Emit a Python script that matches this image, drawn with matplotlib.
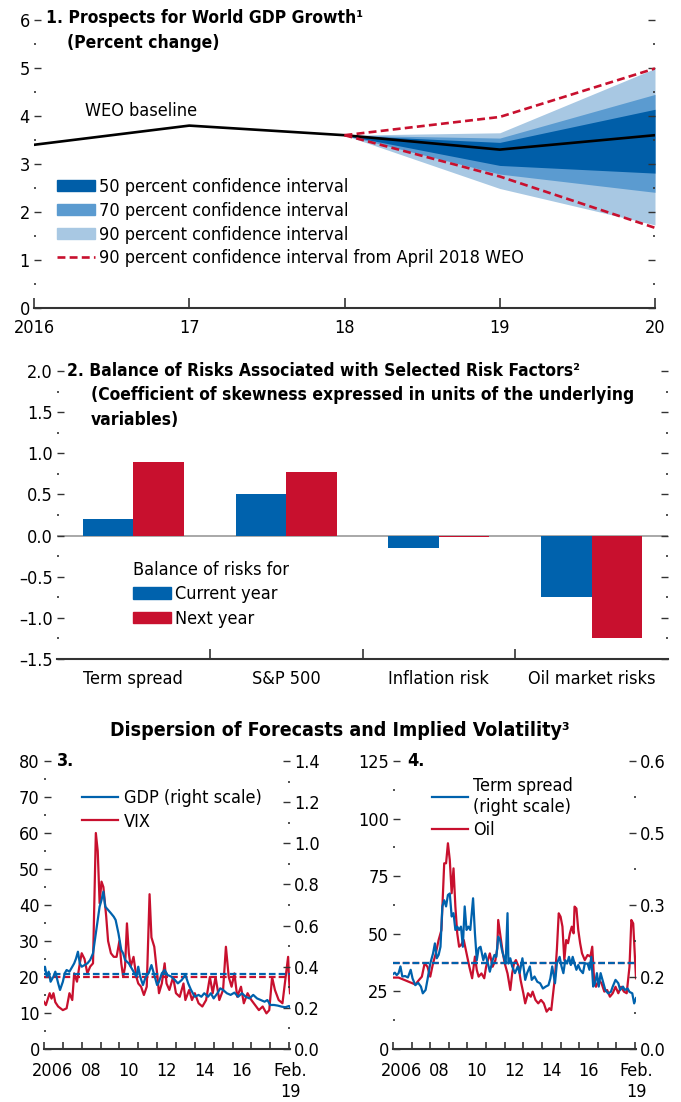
import matplotlib
matplotlib.use("Agg")
import matplotlib.pyplot as plt
from matplotlib import font_manager
from matplotlib.patches import Patch
from matplotlib.lines import Line2D
from matplotlib.ticker import MultipleLocator, FixedLocator

# narrow font if available, otherwise fall back
fonts = font_manager.fontManager.ttflist
names = {f.name for f in fonts}
if 'Liberation Sans Narrow' in names:
    plt.rcParams['font.family'] = ['Liberation Sans Narrow', 'DejaVu Sans']
    FS = 14
elif any(f.name == 'DejaVu Sans' and f.stretch == 'condensed' for f in fonts):
    plt.rcParams['font.family'] = ['DejaVu Sans']
    plt.rcParams['font.stretch'] = 'condensed'
    FS = 13
else:
    plt.rcParams['font.family'] = ['Liberation Sans', 'DejaVu Sans']
    FS = 13
TFS = FS - 0.5

# ---- panel 1: world GDP growth fan chart
years = [2016, 2017, 2018, 2019, 2020]
baseline = [3.4, 3.8, 3.6, 3.3, 3.6]
fan_years = [2018, 2019, 2020]
lo90 = [3.6, 2.49, 1.73]
hi90 = [3.6, 3.65, 4.99]
lo70 = [3.6, 2.79, 2.41]
hi70 = [3.6, 3.54, 4.45]
lo50 = [3.6, 2.97, 2.81]
hi50 = [3.6, 3.45, 4.14]
apr18_lo = [3.6, 2.74, 1.67]
apr18_hi = [3.6, 3.98, 4.99]

# ---- panel 2: balance of risks
factors = ['Term spread', 'S&P 500', 'Inflation risk', 'Oil market risks']
current_year = [0.20, 0.51, -0.15, -0.75]
next_year = [0.90, 0.77, -0.02, -1.24]

# ---- panel 3: GDP forecast dispersion and VIX
vix_t = [2006.0, 2006.1, 2006.3, 2006.4, 2006.5, 2006.6, 2006.75, 2007.0, 2007.2, 2007.35,
         2007.5, 2007.6, 2007.75, 2007.9, 2008.0, 2008.15, 2008.3, 2008.45, 2008.6, 2008.75,
         2008.85, 2008.95, 2009.05, 2009.15, 2009.3, 2009.4, 2009.55, 2009.7, 2009.85, 2010.0,
         2010.1, 2010.2, 2010.3, 2010.4, 2010.5, 2010.6, 2010.75, 2010.9, 2011.0, 2011.15,
         2011.3, 2011.45, 2011.6, 2011.7, 2011.85, 2012.0, 2012.1, 2012.25, 2012.4, 2012.5,
         2012.65, 2012.85, 2013.0, 2013.2, 2013.4, 2013.5, 2013.7, 2013.85, 2014.0, 2014.2,
         2014.4, 2014.6, 2014.8, 2014.95, 2015.1, 2015.3, 2015.5, 2015.65, 2015.8, 2015.95,
         2016.1, 2016.25, 2016.45, 2016.6, 2016.8, 2017.0, 2017.2, 2017.4, 2017.6, 2017.8,
         2017.95, 2018.1, 2018.25, 2018.45, 2018.65, 2018.8, 2018.95, 2019.0, 2019.05]
vix = [13.1, 12.2, 15.5, 14.0, 15.5, 13.0, 11.8, 10.8, 11.3, 15.5,
       13.6, 21.0, 18.7, 23.8, 26.6, 25.0, 21.0, 22.9, 23.8, 60.0,
       55.0, 40.5, 46.5, 45.0, 36.8, 30.0, 26.6, 25.6, 25.6, 30.0,
       23.8, 20.0, 22.9, 34.9, 26.6, 22.9, 25.6, 20.0, 18.2, 17.3,
       15.0, 17.3, 43.0, 31.0, 28.4, 21.0, 15.5, 18.2, 23.8, 18.2,
       16.4, 20.0, 15.5, 14.5, 18.2, 13.6, 16.4, 13.6, 15.5, 12.7,
       11.8, 13.6, 20.0, 15.5, 20.0, 13.6, 16.4, 28.4, 20.0, 17.3,
       21.0, 14.5, 17.3, 12.7, 15.5, 13.6, 12.2, 10.8, 11.8, 9.9,
       10.8, 20.0, 16.4, 13.6, 12.7, 19.2, 25.6, 19.2, 15.5]
gdp_t = [2006.0, 2006.05, 2006.15, 2006.25, 2006.35, 2006.5, 2006.6, 2006.75, 2006.85, 2007.0,
         2007.1, 2007.2, 2007.35, 2007.5, 2007.6, 2007.7, 2007.8, 2007.9, 2008.0, 2008.15,
         2008.3, 2008.45, 2008.6, 2008.7, 2008.85, 2008.95, 2009.05, 2009.15, 2009.25, 2009.4,
         2009.55, 2009.7, 2009.8, 2009.95, 2010.1, 2010.2, 2010.3, 2010.5, 2010.6, 2010.75,
         2010.9, 2011.0, 2011.1, 2011.25, 2011.4, 2011.55, 2011.7, 2011.85, 2012.0, 2012.1,
         2012.25, 2012.4, 2012.55, 2012.75, 2012.95, 2013.1, 2013.3, 2013.5, 2013.65, 2013.8,
         2014.0, 2014.2, 2014.35, 2014.5, 2014.7, 2014.85, 2015.0, 2015.2, 2015.35, 2015.5,
         2015.7, 2015.9, 2016.1, 2016.3, 2016.5, 2016.7, 2016.9, 2017.1, 2017.3, 2017.5,
         2017.7, 2017.85, 2018.0, 2018.2, 2018.4, 2018.6, 2018.8, 2019.0, 2019.05]
gdp = [0.384, 0.400, 0.352, 0.376, 0.327, 0.352, 0.376, 0.320, 0.287, 0.327,
       0.368, 0.384, 0.376, 0.400, 0.416, 0.440, 0.473, 0.416, 0.400, 0.408,
       0.416, 0.433, 0.465, 0.530, 0.627, 0.692, 0.724, 0.765, 0.692, 0.676,
       0.660, 0.643, 0.627, 0.562, 0.481, 0.465, 0.433, 0.416, 0.400, 0.376,
       0.352, 0.400, 0.352, 0.311, 0.352, 0.368, 0.408, 0.360, 0.311, 0.327,
       0.368, 0.384, 0.360, 0.352, 0.335, 0.319, 0.335, 0.360, 0.319, 0.287,
       0.254, 0.263, 0.254, 0.271, 0.254, 0.271, 0.246, 0.271, 0.295, 0.287,
       0.271, 0.263, 0.274, 0.254, 0.271, 0.254, 0.246, 0.263, 0.246, 0.238,
       0.230, 0.238, 0.214, 0.214, 0.211, 0.206, 0.203, 0.209, 0.203]
vix_mean = 19.9
gdp_mean = 0.363

# ---- panel 4: term spread dispersion and oil volatility
oil_t = [2006.0, 2006.3, 2006.6, 2006.9, 2007.2, 2007.4, 2007.55, 2007.7, 2007.85, 2008.0,
         2008.15, 2008.3, 2008.45, 2008.6, 2008.75, 2008.85, 2008.95, 2009.05, 2009.15, 2009.25,
         2009.35, 2009.45, 2009.55, 2009.65, 2009.8, 2009.95, 2010.1, 2010.25, 2010.4, 2010.5,
         2010.6, 2010.75, 2010.9, 2011.0, 2011.1, 2011.2, 2011.35, 2011.5, 2011.6, 2011.65,
         2011.75, 2011.9, 2012.0, 2012.15, 2012.3, 2012.4, 2012.5, 2012.6, 2012.75, 2012.85,
         2013.0, 2013.1, 2013.25, 2013.4, 2013.5, 2013.65, 2013.8, 2013.95, 2014.1, 2014.25,
         2014.4, 2014.5, 2014.6, 2014.7, 2014.8, 2014.9, 2015.0, 2015.1, 2015.2, 2015.3,
         2015.4, 2015.5, 2015.6, 2015.7, 2015.75, 2015.85, 2015.95, 2016.05, 2016.15, 2016.3,
         2016.45, 2016.6, 2016.7, 2016.8, 2016.9, 2017.05, 2017.2, 2017.35, 2017.5, 2017.65,
         2017.8, 2017.95, 2018.1, 2018.25, 2018.4, 2018.55, 2018.7, 2018.8, 2018.9, 2019.0,
         2019.05]
oil = [31.0, 31.0, 30.0, 29.0, 28.0, 30.0, 31.4, 37.2, 35.7, 31.4,
       37.2, 41.5, 47.3, 51.6, 80.6, 80.6, 89.3, 82.0, 67.6, 78.4,
       61.8, 50.2, 44.4, 45.1, 47.3, 41.5, 35.7, 30.7, 40.1, 34.3,
       31.4, 32.8, 30.7, 35.7, 38.6, 41.5, 35.7, 38.6, 43.7, 56.0,
       50.2, 41.5, 37.2, 32.8, 25.6, 32.8, 37.2, 38.6, 35.7, 30.0,
       24.2, 19.8, 24.2, 22.7, 24.9, 21.3, 19.8, 21.3, 19.8, 16.2,
       17.7, 16.9, 24.2, 31.4, 43.0, 58.9, 57.4, 53.1, 38.6, 47.3,
       45.9, 50.2, 53.1, 50.2, 61.8, 61.0, 51.6, 45.9, 41.5, 38.6,
       40.8, 40.1, 44.4, 30.0, 27.0, 30.0, 28.5, 24.9, 25.6, 22.7,
       24.2, 27.0, 24.2, 27.0, 24.9, 24.2, 35.7, 56.0, 54.5, 38.6,
       30.7]
ts_t = [2006.0, 2006.1, 2006.2, 2006.3, 2006.4, 2006.5, 2006.65, 2006.8, 2006.95, 2007.05,
        2007.2, 2007.35, 2007.5, 2007.6, 2007.75, 2007.85, 2008.0, 2008.15, 2008.25, 2008.35,
        2008.45, 2008.55, 2008.65, 2008.75, 2008.85, 2008.95, 2009.05, 2009.15, 2009.25, 2009.35,
        2009.45, 2009.55, 2009.65, 2009.75, 2009.85, 2009.95, 2010.05, 2010.15, 2010.3, 2010.4,
        2010.5, 2010.6, 2010.7, 2010.85, 2010.95, 2011.1, 2011.2, 2011.35, 2011.45, 2011.55,
        2011.65, 2011.75, 2011.85, 2011.95, 2012.05, 2012.15, 2012.2, 2012.3, 2012.4, 2012.55,
        2012.7, 2012.8, 2012.95, 2013.1, 2013.2, 2013.35, 2013.45, 2013.6, 2013.75, 2013.9,
        2014.05, 2014.2, 2014.35, 2014.45, 2014.55, 2014.7, 2014.8, 2014.95, 2015.05, 2015.15,
        2015.25, 2015.35, 2015.45, 2015.55, 2015.65, 2015.75, 2015.85, 2015.95, 2016.05, 2016.2,
        2016.3, 2016.45, 2016.55, 2016.65, 2016.75, 2016.85, 2016.95, 2017.05, 2017.15, 2017.3,
        2017.4, 2017.55, 2017.7, 2017.8, 2017.95, 2018.1, 2018.2, 2018.35, 2018.45, 2018.6,
        2018.7, 2018.85, 2018.95, 2019.05]
term_spread = [0.156, 0.159, 0.154, 0.158, 0.172, 0.151, 0.152, 0.149, 0.165, 0.147,
               0.133, 0.138, 0.130, 0.116, 0.123, 0.144, 0.178, 0.199, 0.220, 0.189,
               0.196, 0.213, 0.297, 0.310, 0.297, 0.321, 0.324, 0.276, 0.283, 0.248,
               0.255, 0.248, 0.255, 0.213, 0.297, 0.248, 0.255, 0.248, 0.314, 0.241,
               0.185, 0.210, 0.213, 0.185, 0.199, 0.178, 0.161, 0.185, 0.196, 0.192,
               0.234, 0.227, 0.206, 0.192, 0.178, 0.283, 0.178, 0.189, 0.172, 0.158,
               0.172, 0.158, 0.189, 0.144, 0.158, 0.172, 0.144, 0.151, 0.140, 0.137,
               0.126, 0.130, 0.133, 0.147, 0.172, 0.137, 0.178, 0.192, 0.172, 0.158,
               0.185, 0.178, 0.192, 0.175, 0.192, 0.178, 0.165, 0.175, 0.165, 0.158,
               0.178, 0.178, 0.165, 0.192, 0.130, 0.137, 0.158, 0.130, 0.158, 0.137,
               0.123, 0.116, 0.119, 0.130, 0.144, 0.137, 0.123, 0.130, 0.123, 0.126,
               0.119, 0.116, 0.095, 0.106]
oil_mean = 37.5
ts_mean = 0.18

BLUE = '#0062AD'
RED = '#C8102E'
C50 = '#005EA8'
C70 = '#5B9BD0'
C90 = '#A8C8E3'
AXC = '#333333'

W, H = 681, 1102
fig = plt.figure(figsize=(W / 100, H / 100), dpi=100)


def box(l, t, r, b):
    return [l / W, 1 - b / H, (r - l) / W, (b - t) / H]


def ftext(x, y, s, **kw):
    kw.setdefault('fontsize', FS)
    kw.setdefault('va', 'center')
    fig.text(x / W, 1 - y / H, s, **kw)


def style_y(ax, major, minor):
    ax.yaxis.set_major_locator(MultipleLocator(major))
    ax.yaxis.set_minor_locator(MultipleLocator(minor))
    ax.tick_params(axis='y', which='major', direction='in', length=5, width=1,
                   color=AXC, labelsize=FS, pad=3)
    ax.tick_params(axis='y', which='minor', direction='in', length=1.5, width=1.2, color=AXC)
    for s in ['top', 'left', 'right']:
        ax.spines[s].set_visible(False)
    ax.spines['bottom'].set_color(AXC)
    ax.spines['bottom'].set_linewidth(1.5)


# ================= panel 1
ax1 = fig.add_axes(box(34, 20, 655, 308))
ax1.fill_between(fan_years, lo90, hi90, color=C90, lw=0)
ax1.fill_between(fan_years, lo70, hi70, color=C70, lw=0)
ax1.fill_between(fan_years, lo50, hi50, color=C50, lw=0)
ax1.plot(years, baseline, color='black', lw=1.9, zorder=4)
ax1.plot(fan_years, apr18_hi, color=RED, lw=1.9, ls=(0, (3, 1.6)), zorder=5)
ax1.plot(fan_years, apr18_lo, color=RED, lw=1.9, ls=(0, (3, 1.6)), zorder=5)
ax1.set_xlim(2016, 2020)
ax1.set_ylim(0, 6)
style_y(ax1, 1, 0.5)
ax1.tick_params(axis='y', which='both', left=True, right=True, labelleft=True, labelright=False)
ax1.set_xticks(years)
ax1.set_xticklabels(['2016', '17', '18', '19', '20'])
ax1.tick_params(axis='x', direction='in', length=7, width=1.2, color=AXC, labelsize=FS, pad=8)
ax1.text(2016.33, 4.1, 'WEO baseline', fontsize=FS, va='center')
h1 = [Patch(color=C50), Patch(color=C70), Patch(color=C90),
      Line2D([], [], color=RED, lw=1.9, ls=(0, (3, 1.6)))]
l1 = ['50 percent confidence interval', '70 percent confidence interval',
      '90 percent confidence interval', '90 percent confidence interval from April 2018 WEO']
ax1.legend(h1, l1, loc='upper left', bbox_to_anchor=(0.037, 0.451), frameon=False,
           fontsize=FS, handlelength=2.1, handleheight=0.6, handletextpad=0.25,
           labelspacing=0.32, borderpad=0, borderaxespad=0)
ftext(46, 18, '1. Prospects for World GDP Growth¹', fontweight='bold', fontsize=TFS)
ftext(67, 43, '(Percent change)', fontweight='bold', fontsize=TFS)

# ================= panel 2
ax2 = fig.add_axes(box(57, 371, 668, 659))
xs = range(len(factors))
ax2.bar([i - 0.165 for i in xs], current_year, 0.33, color=BLUE, zorder=2)
ax2.bar([i + 0.165 for i in xs], next_year, 0.33, color=RED, zorder=2)
ax2.axhline(0, color='#9a9a9a', lw=1.2, zorder=1)
ax2.set_xlim(-0.5, 3.5)
ax2.set_ylim(-1.5, 2.0)
style_y(ax2, 0.5, 0.25)
ax2.tick_params(axis='y', which='both', left=True, right=True, labelleft=True, labelright=False)
yt2 = [-1.5, -1.0, -0.5, 0.0, 0.5, 1.0, 1.5, 2.0]
ax2.yaxis.set_major_locator(FixedLocator(yt2))
ax2.set_yticklabels([('%.1f' % v).replace('-', '–') for v in yt2])
ax2.set_xticks([0.5, 1.5, 2.5])
ax2.set_xticklabels([])
ax2.set_xticks(list(xs), minor=True)
ax2.set_xticklabels(factors, minor=True)
ax2.tick_params(axis='x', which='major', direction='in', length=7, width=1.2, color=AXC)
ax2.tick_params(axis='x', which='minor', length=0, labelsize=FS, pad=8)
ax2.legend([Patch(color=BLUE), Patch(color=RED)], ['Current year', 'Next year'],
           title='Balance of risks for', title_fontsize=FS, alignment='left',
           loc='upper left', bbox_to_anchor=(0.124, 0.34), frameon=False,
           fontsize=FS, handlelength=2.1, handleheight=0.6, handletextpad=0.25,
           labelspacing=0.35, borderpad=0, borderaxespad=0)
ftext(67, 371, '2. Balance of Risks Associated with Selected Risk Factors²',
      fontweight='bold', fontsize=TFS)
ftext(91, 395, '(Coefficient of skewness expressed in units of the underlying',
      fontweight='bold', fontsize=TFS)
ftext(91, 420, 'variables)', fontweight='bold', fontsize=TFS)

# ================= panels 3 and 4
ftext(340, 731, 'Dispersion of Forecasts and Implied Volatility³', fontweight='bold',
      ha='center', fontsize=FS + 1)

x_lab_pos = [2006.45, 2008.5, 2010.5, 2012.5, 2014.5, 2016.5, 2019.05]
x_lab = ['2006', '08', '10', '12', '14', '16', 'Feb.\n19']


def time_panel(rect, left_series, right_series, lmax, lstep, rmax, rstep):
    ax = fig.add_axes(rect)
    axr = ax.twinx()
    t, v, m = left_series
    ax.plot(t, v, color=RED, lw=1.6)
    ax.axhline(m, color=RED, lw=1.6, ls=(0, (3, 1.4)))
    t, v, m = right_series
    axr.plot(t, v, color=BLUE, lw=1.6)
    axr.axhline(m, color=BLUE, lw=1.6, ls=(0, (3, 1.4)))
    ax.set_xlim(2006, 2019.05)
    ax.set_ylim(0, lmax)
    axr.set_ylim(0, rmax)
    style_y(ax, lstep, lstep / 2)
    style_y(axr, rstep, rstep / 2)
    axr.spines['bottom'].set_visible(False)
    ax.tick_params(axis='y', which='both', left=True, right=False, labelleft=True)
    axr.tick_params(axis='y', which='both', left=False, right=True, labelright=True, labelleft=False)
    ax.set_xticks(range(2006, 2020))
    ax.set_xticklabels([])
    ax.set_xticks(x_lab_pos, minor=True)
    ax.set_xticklabels(x_lab, minor=True, linespacing=1.25)
    ax.tick_params(axis='x', which='major', direction='in', length=5, width=1.2, color=AXC)
    ax.tick_params(axis='x', which='minor', length=0, labelsize=FS, pad=9)
    return ax, axr


ax3, ax3r = time_panel(box(44, 761, 290, 1049), (vix_t, vix, vix_mean),
                       (gdp_t, gdp, gdp_mean), 80, 10, 1.4, 0.2)
ax3r.legend([Line2D([], [], color=BLUE, lw=1.6), Line2D([], [], color=RED, lw=1.6)],
            ['GDP (right scale)', 'VIX'], loc='upper left', bbox_to_anchor=(0.155, 0.902),
            frameon=False, fontsize=FS, handlelength=2.0, handletextpad=0.3,
            labelspacing=0.3, borderpad=0, borderaxespad=0)
ftext(57, 761, '3.', fontweight='bold')

ax4, ax4r = time_panel(box(393, 761, 636, 1049), (oil_t, oil, oil_mean),
                       (ts_t, term_spread, ts_mean), 125, 25, 0.6, 0.15)
r4 = [0.0, 0.15, 0.30, 0.45, 0.60]
ax4r.yaxis.set_major_locator(FixedLocator(r4))
ax4r.yaxis.set_minor_locator(MultipleLocator(0.075))
ax4r.set_yticklabels(['0.0', '0.2', '0.3', '0.5', '0.6'])
ax4r.legend([Line2D([], [], color=BLUE, lw=1.6), Line2D([], [], color=RED, lw=1.6)],
            ['Term spread\n(right scale)', 'Oil'], loc='upper left', bbox_to_anchor=(0.16, 0.944),
            frameon=False, fontsize=FS, handlelength=2.0, handletextpad=0.3,
            labelspacing=0.3, borderpad=0, borderaxespad=0)
ftext(407, 761, '4.', fontweight='bold')

fig.savefig('out.png', dpi=100)
